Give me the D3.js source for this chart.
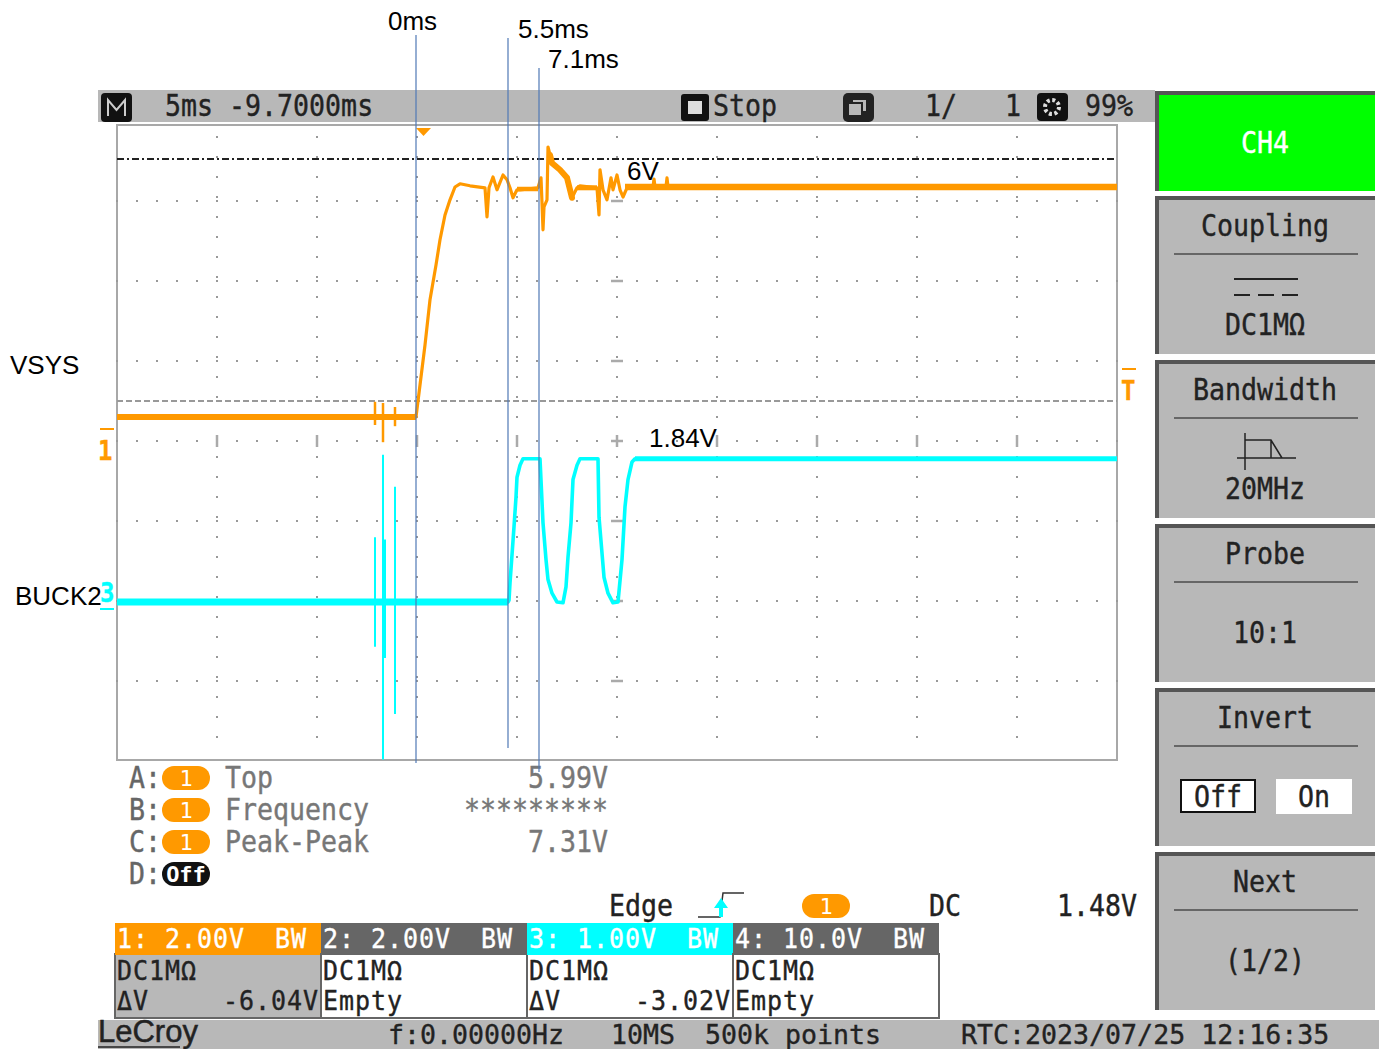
<!DOCTYPE html>
<html><head><meta charset="utf-8">
<script src="https://cdn.jsdelivr.net/npm/d3@7/dist/d3.min.js"></script>
<style>html,body{margin:0;padding:0;background:#fff;overflow:hidden}svg{display:block}</style>
</head><body><svg id="c" width="1379" height="1049"></svg>
<script>
// ---- data: CH1 (VSYS) in ms / volts
const vsysTime=[-15,-0.05,0.15,0.4,0.65,0.95,1.15,1.4,1.65,1.9,2.15,2.65,3.4,3.5,3.6,3.8,4.0,4.3,4.5,4.65,4.8,5.0,5.15,6.05,6.2,6.25,6.3,6.35,6.5,6.55,6.65,6.75,7.15,7.5,7.75,8.0,8.15,9.0,9.1,9.15,9.3,9.5,9.7,9.8,10.0,10.15,10.3,10.5,11.8,11.85,11.9,12.45,12.5,12.55,35];
const vsysVolt=[0,0,0.8,1.8,2.93,3.8,4.43,5.05,5.43,5.75,5.83,5.78,5.73,5.0,5.73,6.0,5.68,6.05,5.93,5.73,5.48,5.68,5.68,5.73,5.98,5.35,4.68,5.25,5.43,6.75,6.55,6.35,6.18,5.98,5.48,5.73,5.78,5.73,5.05,6.18,5.68,5.43,5.98,5.68,6.05,5.68,5.5,5.73,5.75,5.95,5.75,5.75,5.98,5.75,5.75];
const vsysBandTime=[[-15,-0.05],[5.0,6.05],[8,9],[10.4,35]];
const vsysBandVolt=[0,5.7,5.73,5.75];
const vsysBandWidth=[6,4.5,5,6.5];
const vsysSettleTime=[6.65,6.75,7.15,7.5,7.75];
const vsysSettleVolt=[6.55,6.35,6.18,5.98,5.48];
const vsysSpikeTime=[-2.1,-1.7,-1.1];
const vsysSpikeLow=[-0.2,-0.63,-0.23];
const vsysSpikeHigh=[0.38,0.35,0.25];
// ---- data: CH3 (BUCK2)
const buckTime=[-15,4.55,4.6,4.65,4.75,4.85,4.95,5.0,5.15,5.3,6.15,6.3,6.45,6.55,6.75,7.0,7.3,7.45,7.55,7.7,7.8,8.0,8.15,9.05,9.1,9.25,9.35,9.55,9.8,10.05,10.25,10.4,10.55,10.75,10.9,35];
const buckVolt=[0,0,0.02,0.24,0.59,0.94,1.31,1.56,1.71,1.79,1.79,0.99,0.53,0.28,0.11,0,-0.01,0.19,0.56,0.99,1.53,1.71,1.79,1.79,1.06,0.61,0.31,0.11,-0.01,0,0.53,1.19,1.53,1.75,1.79,1.79];
const buckBandTime=[[-15,4.55],[10.9,35]];
const buckBandVolt=[0,1.79];
const buckSpikeTime=[-2.1,-1.7,-1.6,-1.1];
const buckSpikeLow=[-0.56,-1.97,-0.7,-1.4];
const buckSpikeHigh=[0.81,1.84,0.78,1.44];
// ---- cursors
const cursorTop=6.45, cursorBottom=0.4;
const annotationTime=[-0.05,4.55,6.1];
const annotationLabels=["0ms","5.5ms","7.1ms"];
// ---- texts
const measureNames=["Top","Frequency","Peak-Peak"];
const measureValues=["5.99V","*********","7.31V"];
const measureLetters=["A:","B:","C:","D:"];
const channelHeads=["1: 2.00V","2: 2.00V","3: 1.00V","4: 10.0V"];
const channelFill=["#ff9900","#666666","#00ffff","#666666"];
const channelDelta=["-6.04V","Empty","-3.02V","Empty"];
const panelTitles=["Coupling","Bandwidth","Probe","Invert","Next"];
const panelValues=["DC1MΩ","20MHz","10:1","","(1/2)"];

const svg=d3.select("#c");
const L=117,R=1117,T=125,B=760;
const x=d3.scaleLinear().domain([-15,35]).range([L,R]);
const y1=d3.scaleLinear().domain([7.3,-8.575]).range([T,B]);
const y3=d3.scaleLinear().domain([5.9625,-1.975]).range([T,B]);
const ORANGE="#ff9900",CYAN="#00ffff",GREY="#b8b8b8",DARK="#555";
const MONO="'DejaVu Sans Mono',monospace", SANS="'Liberation Sans',Arial,sans-serif";

function mono(t,px,py,o={}){
  const size=o.size||26.6, sy=o.sy||1.14, c=o.fill||"#222";
  return svg.append("text").text(t)
    .attr("transform",`translate(${px},${py+1.5}) scale(1,${sy})`)
    .attr("text-anchor",o.anchor||"start")
    .attr("font-family",MONO).attr("font-size",size)
    .attr("font-weight",o.weight||"normal")
    .attr("letter-spacing",o.ls||0)
    .attr("fill",c).attr("stroke",c).attr("stroke-width",o.sw===undefined?0.35:o.sw)
    .style("white-space","pre");
}
const tableText={size:25,sy:1.06,ls:0.95};
function sans(t,px,py,size=26){
  return svg.append("text").text(t).attr("x",px).attr("y",py).attr("font-family",SANS).attr("font-size",size).attr("fill","#000");
}
function rect(a,b,w,h,f,o={}){
  return svg.append("rect").attr("x",a).attr("y",b).attr("width",w).attr("height",h).attr("fill",f)
   .attr("stroke",o.stroke||"none").attr("stroke-width",o.sw||1).attr("rx",o.rx||0);
}
function hline(a,b,yy,c,w=1.5,dash=null){
  return svg.append("line").attr("x1",a).attr("x2",b).attr("y1",yy).attr("y2",yy).attr("stroke",c).attr("stroke-width",w).attr("stroke-dasharray",dash);
}
function vline(xx,a,b,c,w=1){
  return svg.append("line").attr("x1",xx).attr("x2",xx).attr("y1",a).attr("y2",b).attr("stroke",c).attr("stroke-width",w);
}

// header bar
rect(98,90,1057,32,GREY);
rect(101,93,31,29,"#111",{rx:4});
svg.append("path").attr("d","M108,116V100L116.5,110L125,100V116").attr("fill","none").attr("stroke","#ccc").attr("stroke-width",2);
mono("5ms -9.7000ms",165,114);
rect(681,94,28,27,"#111",{rx:3}); rect(688,101,14,13,"#ddd");
mono("Stop",713,114);
rect(843,93,31,29,"#222",{rx:5}); rect(852,99,15,13,GREY,{stroke:"#222",sw:2}); rect(848,103,14,13,GREY,{stroke:"#222",sw:2});
mono("1/",925,114); mono("1",1005,114);
rect(1037,93,31,28,"#111",{rx:4});
svg.append("circle").attr("cx",1052).attr("cy",107).attr("r",7).attr("fill","none").attr("stroke","#ddd").attr("stroke-width",4).attr("stroke-dasharray","3 2.5");
mono("99%",1085,114);

// plot frame and grid
rect(L,T,R-L,B-T,"#fff",{stroke:"#a8a8a8",sw:2});
const g=svg.append("g");
const gridV=d3.range(-15,35.01,1), colV=d3.range(-10,30.01,5);
const rowVolt=d3.range(-6.6,6.01,2);
const colDotVolt=d3.range(-8.1,7.01,0.5);
rowVolt.forEach(v=>gridV.forEach(t=>{
  g.append("rect").attr("x",x(t)-1).attr("y",y1(v)-1).attr("width",2).attr("height",2).attr("fill","#999");
}));
colV.forEach(t=>colDotVolt.forEach(v=>{
  g.append("rect").attr("x",x(t)-1).attr("y",y1(v+0.1)-1).attr("width",2).attr("height",2).attr("fill","#999");
}));
// centre cross ticks
colV.forEach(t=>vline(x(t),y1(-0.6)-6,y1(-0.6)+6,"#aaa",2.5));
rowVolt.forEach(v=>hline(x(10)-6,x(10)+6,y1(v),"#aaa",2.5));

// cursors
hline(L,R,y1(cursorTop),"#222",2,"7 3 2 3");
hline(L,R,y1(cursorBottom),"#999",1.8,"6 3");

const lineGen=yy=>d3.line().x(d=>x(d[0])).y(d=>yy(d[1]));
// CH3
const buck=d3.zip(buckTime,buckVolt);
buckSpikeTime.forEach((t,i)=>vline(x(t),y3(buckSpikeLow[i]),y3(buckSpikeHigh[i]),CYAN,2));
svg.append("path").datum(buck).attr("d",lineGen(y3)).attr("fill","none").attr("stroke",CYAN).attr("stroke-width",3.6).attr("stroke-linejoin","round");
buckBandTime.forEach((b,i)=>svg.append("path").datum(b.map(t=>[t,buckBandVolt[i]])).attr("d",lineGen(y3)).attr("fill","none").attr("stroke",CYAN).attr("stroke-width",i?5:7));
// CH1
const vsys=d3.zip(vsysTime,vsysVolt);
vsysSpikeTime.forEach((t,i)=>vline(x(t),y1(vsysSpikeLow[i]),y1(vsysSpikeHigh[i]),ORANGE,2.5));
svg.append("path").datum(vsys).attr("d",lineGen(y1)).attr("fill","none").attr("stroke",ORANGE).attr("stroke-width",3.2).attr("stroke-linejoin","round");
svg.append("path").datum(d3.zip(vsysSettleTime,vsysSettleVolt)).attr("d",lineGen(y1)).attr("fill","none").attr("stroke",ORANGE).attr("stroke-width",6).attr("stroke-linecap","round");
vsysBandTime.forEach((b,i)=>svg.append("path").datum(b.map(t=>[t,vsysBandVolt[i]])).attr("d",lineGen(y1)).attr("fill","none").attr("stroke",ORANGE).attr("stroke-width",vsysBandWidth[i]));

// side markers
svg.append("path").attr("d","M416,128h15l-7.5,8z").attr("fill",ORANGE);
hline(100,114,429,ORANGE,2); mono("1",98,458,{fill:ORANGE,size:24,weight:"bold"});
mono("3",100,600,{fill:CYAN,size:24,weight:"bold"}); hline(100,114,609,CYAN,2);
hline(1122,1136,369,ORANGE,2); mono("T",1121,398,{fill:ORANGE,size:24,weight:"bold"});

// measurements
const pill=(px,py,t,f)=>{rect(px,py,48,24,f,{rx:12});mono(t,px+24,py+18.5,{anchor:"middle",fill:"#fff",size:22,weight:t.length>1?"bold":"normal",sy:1,sw:0});};
measureLetters.forEach((m,i)=>mono(m,129,786+32*i,{fill:"#666"}));
measureNames.forEach((m,i)=>{
  pill(162,766+32*i,"1",ORANGE);
  mono(m,225,786+32*i,{fill:"#777"});
  mono(measureValues[i],608,786+32*i,{anchor:"end",fill:"#777"});
});
pill(162,862,"Off","#111");

// trigger row
mono("Edge",609,914);
svg.append("path").attr("d","M698,917h22l3,-24h21").attr("fill","none").attr("stroke","#333").attr("stroke-width",1.5);
svg.append("path").attr("d","M714,908h14l-7,-10z M719,908h4v9h-4z").attr("fill",CYAN);
pill(802,894,"1",ORANGE);
mono("DC",929,914); mono("1.48V",1137,914,{anchor:"end"});

// channel table
const colW=206,tx=115;
channelHeads.forEach((h,i)=>{
  const cx=tx+colW*i;
  rect(cx,954,colW,64,i==0?GREY:"#fff",{stroke:"#666",sw:2});
  rect(cx,923,colW,32,channelFill[i]);
  mono(h,cx+2,946,{fill:"#fff",...tableText});
  mono("BW",cx+160,946,{fill:"#fff",...tableText});
  mono("DC1MΩ",cx+2,978,tableText);
  if(channelDelta[i]==="Empty") mono("Empty",cx+2,1008,tableText);
  else { mono("ΔV",cx+2,1008,tableText); mono(channelDelta[i],cx+204,1008,{anchor:"end",...tableText}); }
});

// footer
rect(98,1020,1281,29,GREY);
svg.append("text").text("LeCroy").attr("x",98).attr("y",1042).attr("font-family",SANS).attr("font-size",31).attr("fill","#222").attr("stroke","#222").attr("stroke-width",0.5);
hline(98,180,1047,"#222",1.5);
mono("f:0.00000Hz",388,1042,{size:26.6,sy:1.0}); mono("10MS",611,1042,{size:26.6,sy:1.0}); mono("500k points",705,1042,{size:26.6,sy:1.0}); mono("RTC:2023/07/25 12:16:35",961,1042,{size:26.6,sy:1.0});

// right panels
const panelTop=[196,360,524,688,852];
const panelValueOffset=[137,137,117,0,117];
rect(1155,91,220,100,"#00ff00"); rect(1155,91,220,4,DARK); rect(1155,91,4,100,DARK);
mono("CH4",1265,151,{anchor:"middle",fill:"#fff"});
panelTitles.forEach((t,i)=>{
  const py=panelTop[i];
  rect(1155,py,220,158,GREY); rect(1155,py,220,4,DARK); rect(1155,py,4,158,DARK);
  mono(t,1265,py+38,{anchor:"middle"});
  hline(1174,1358,py+58,"#666",2);
  if(panelValues[i]) mono(panelValues[i],1265,py+panelValueOffset[i],{anchor:"middle"});
});
// coupling icon
hline(1234,1298,279,"#222",2); hline(1234,1298,295,"#222",2,"16 8");
// bandwidth icon
svg.append("path").attr("d","M1237,458H1296 M1245,433V470 M1245,440H1271L1282,458 M1271,440V458").attr("fill","none").attr("stroke","#222").attr("stroke-width",1.5);
// invert buttons
rect(1181,780,74,32,"#fff",{stroke:"#111",sw:2}); mono("Off",1218,805,{anchor:"middle"});
rect(1276,779,76,35,"#fff"); mono("On",1314,805,{anchor:"middle"});

// annotation overlay
const annTop=[35,38,68], annBottom=[763,748,772], annX=[388,518,548], annY=[30,38,68];
annotationTime.forEach((t,i)=>{
  vline(x(t),annTop[i],annBottom[i],"#4f78b5",1.2);
  sans(annotationLabels[i],annX[i],annY[i]);
});
sans("6V",627,180); sans("1.84V",649,447); sans("VSYS",10,374); sans("BUCK2",15,605);
</script></body></html>
